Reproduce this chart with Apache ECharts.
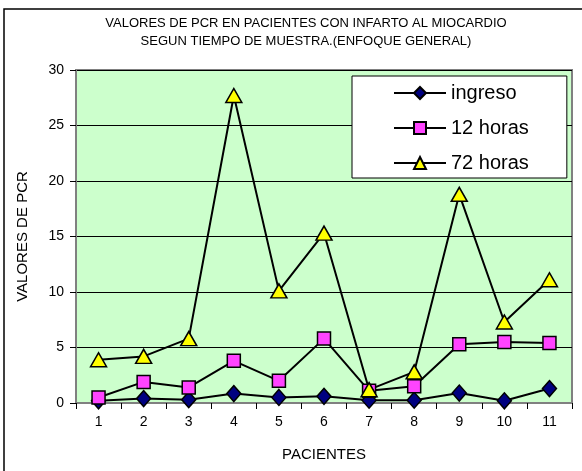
<!DOCTYPE html>
<html>
<head>
<meta charset="utf-8">
<script src="https://cdn.jsdelivr.net/npm/echarts@6/dist/echarts.min.js"></script>
<style>
  html, body { margin: 0; padding: 0; background: #ffffff; }
  #chart { width: 582px; height: 471px; }
</style>
</head>
<body>
<div id="chart"></div>
<script>
// Patients on the category axis
const pacientes = ['1', '2', '3', '4', '5', '6', '7', '8', '9', '10', '11'];

// PCR values per sampling time
const ingreso = [0.2, 0.4, 0.3, 0.85, 0.5, 0.6, 0.25, 0.25, 0.9, 0.2, 1.3];
const horas12 = [0.5, 1.9, 1.4, 3.8, 2.0, 5.8, 1.1, 1.5, 5.3, 5.5, 5.4];
const horas72 = [3.9, 4.2, 5.8, 27.7, 10.1, 15.3, 1.2, 2.8, 18.8, 7.3, 11.1];

const seriesNames = ['ingreso', '12 horas', '72 horas'];
const titleLines = [
  'VALORES DE PCR EN PACIENTES CON INFARTO AL MIOCARDIO',
  'SEGUN TIEMPO DE MUESTRA.(ENFOQUE GENERAL)'
];
const yTicks = { min: 0, max: 30, interval: 5 };

const FONT = '"Liberation Sans", Arial, sans-serif';

const chart = echarts.init(document.getElementById('chart'), null, { renderer: 'canvas' });

function lineSeries(name, data, symbol, size, fill) {
  return {
    name: name,
    type: 'line',
    data: data,
    symbol: symbol,
    symbolSize: size,
    showAllSymbol: true,
    lineStyle: { color: '#000000', width: 2 },
    itemStyle: { color: fill, borderColor: '#000000', borderWidth: 1.5 },
    emphasis: { disabled: true },
    animation: false,
    z: 3
  };
}

chart.setOption({
  backgroundColor: '#ffffff',
  animation: false,
  graphic: [
    {
      type: 'rect',
      shape: { x: 4, y: 9, width: 640, height: 520 },
      style: { fill: 'none', stroke: '#000000', lineWidth: 1.5 },
      silent: true
    },
    {
      type: 'text',
      style: {
        text: titleLines[0], x: 306, y: 17, textAlign: 'center', textVerticalAlign: 'top',
        fill: '#000000', font: '13px ' + FONT
      }
    },
    {
      type: 'text',
      style: {
        text: titleLines[1], x: 306, y: 35, textAlign: 'center', textVerticalAlign: 'top',
        fill: '#000000', font: '13px ' + FONT
      }
    }
  ],
  grid: {
    left: 76, top: 70, right: 10, bottom: 68,
    show: true,
    backgroundColor: '#CCFFCC',
    borderColor: '#808080',
    borderWidth: 2
  },
  legend: {
    data: seriesNames,
    orient: 'vertical',
    left: 352,
    top: 76,
    backgroundColor: '#ffffff',
    borderColor: '#000000',
    borderWidth: 1,
    borderRadius: 0,
    padding: [7, 38, 5, 41],
    itemGap: 15,
    itemWidth: 52,
    itemHeight: 15,
    itemTextGap: 6,
    selectedMode: false,
    textStyle: { color: '#000000', fontSize: 20, fontFamily: FONT, lineHeight: 20 }
  },
  xAxis: {
    type: 'category',
    data: pacientes,
    boundaryGap: true,
    name: 'PACIENTES',
    nameLocation: 'middle',
    nameGap: 44,
    nameTextStyle: { color: '#000000', fontSize: 15, fontFamily: FONT },
    axisLine: { show: true, lineStyle: { color: '#808080', width: 2 } },
    axisTick: { show: true, alignWithLabel: false, length: 6, lineStyle: { color: '#000000', width: 1 } },
    axisLabel: { color: '#000000', fontSize: 14, fontFamily: FONT, margin: 12 },
    splitLine: { show: false }
  },
  yAxis: {
    type: 'value',
    min: yTicks.min,
    max: yTicks.max,
    interval: yTicks.interval,
    name: 'VALORES DE PCR',
    nameLocation: 'middle',
    nameGap: 46,
    nameTextStyle: { color: '#000000', fontSize: 15, fontFamily: FONT },
    axisLine: { show: true, lineStyle: { color: '#808080', width: 2 } },
    axisTick: { show: true, inside: false, length: 6, lineStyle: { color: '#000000', width: 1 } },
    axisLabel: { color: '#000000', fontSize: 14, fontFamily: FONT, margin: 12 },
    splitLine: { show: true, lineStyle: { color: '#000000', width: 1 } }
  },
  series: [
    lineSeries(seriesNames[0], ingreso, 'diamond', [14, 16], '#000080'),
    lineSeries(seriesNames[1], horas12, 'rect', 13, '#FF44FF'),
    lineSeries(seriesNames[2], horas72, 'triangle', [16, 14], '#FFFF00')
  ]
});
</script>
</body>
</html>
